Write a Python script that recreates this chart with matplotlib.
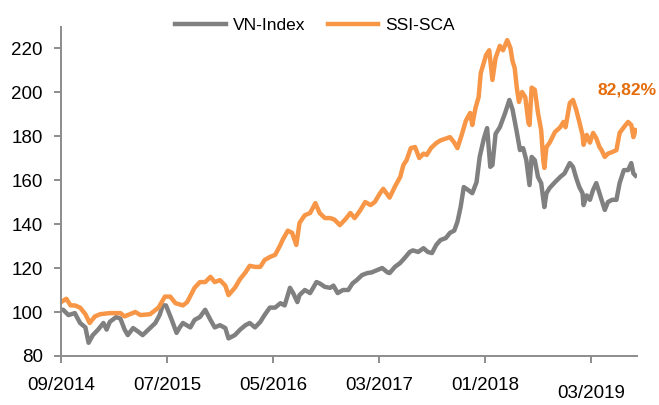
import matplotlib
matplotlib.use("Agg")
import matplotlib.pyplot as plt

plt.rcParams['font.family'] = ['Liberation Sans', 'DejaVu Sans']

# months since 09/2014
t_vni = [0.0, 0.2, 0.7, 1.3, 1.8, 2.3, 2.6, 3.0, 3.5, 4.0, 4.3, 4.6, 5.2, 5.6, 6.0, 6.3, 6.8, 7.3, 7.7, 8.4,
         8.9, 9.3, 9.6, 9.9, 10.4, 10.9, 11.2, 11.5, 12.2, 12.6, 13.1, 13.6, 14.1, 14.5, 15.0, 15.5, 15.8, 16.4,
         16.9, 17.4, 17.8, 18.3, 18.8, 19.2, 19.7, 20.2, 20.7, 21.1, 21.6, 21.9, 22.3, 22.5, 23.0, 23.5, 24.1,
         24.4, 24.9, 25.4, 25.7, 26.1, 26.6, 27.1, 27.5, 27.9, 28.4, 28.9, 29.3, 29.8, 30.3, 30.8, 31.0, 31.5,
         32.0, 32.5, 32.9, 33.2, 33.7, 34.2, 34.6, 35.0, 35.4, 35.8, 36.3, 36.7, 37.1, 37.4, 37.7, 38.0, 38.4,
         38.8, 39.2, 39.5, 39.9, 40.2, 40.5, 40.7, 41.0, 41.4, 41.9, 42.3, 42.6, 43.0, 43.3, 43.6, 43.9, 44.2,
         44.4, 44.7, 45.0, 45.3, 45.6, 45.8, 46.1, 46.6, 47.1, 47.5, 48.0, 48.3, 48.6, 48.9, 49.2, 49.3, 49.6,
         49.9, 50.2, 50.5, 50.8, 51.0, 51.3, 51.6, 52.0, 52.4, 52.7, 53.1, 53.5, 53.8, 54.0, 54.2]
vni = [101, 101, 98.6, 99.5, 95, 93, 86, 89.5, 92, 95, 92, 95.5, 97.7, 97, 92, 89.5, 92.7, 91, 89.5, 92.7,
       95, 98.6, 103, 103, 97, 90.5, 93, 95, 93, 96.4, 97.7, 101, 96.4, 93, 94, 92.7, 88, 89.5,
       92, 94, 95, 93, 95.5, 98.6, 102, 102, 104, 103, 111, 108.6, 104.5, 107.7, 110, 108.6, 113.6,
       113, 111.4, 111, 112, 108.6, 110, 110, 113, 114.5, 116.8, 117.7, 118, 119, 120, 118, 117.7, 120.5,
       122.3, 125, 127.3, 128, 127.3, 129, 127.3, 126.8, 130.5, 132.7, 133.6, 136, 137, 141, 147.7, 156.8, 155.5,
       154, 159, 170.5, 179, 183.6, 166, 166.8, 181, 184, 190.5, 196.4, 192, 181.8, 173.6, 174.5, 169, 157.7,
       170.5, 169, 161.4, 158.6, 147.7, 154, 156.4, 159, 161.4, 163, 167.7, 166, 161, 156.8, 154, 148.6, 153,
       151, 155.5, 158.6, 154, 151, 146.4, 150, 151, 151, 158.6, 164.5, 164.5, 167.7, 163, 162]

t_ssi = [0.0, 0.5, 0.9, 1.3, 1.8, 2.3, 2.7, 3.2, 3.7, 4.6, 5.6, 6.0, 6.5, 7.0, 7.5, 8.4, 9.2, 9.8, 10.3, 10.8,
         11.5, 11.9, 12.6, 13.1, 13.6, 14.1, 14.5, 15.0, 15.5, 15.8, 16.4, 16.9, 17.4, 17.8, 18.3, 18.8, 19.2,
         19.7, 20.2, 20.7, 20.9, 21.4, 21.8, 22.2, 22.5, 23.0, 23.5, 24.0, 24.4, 24.9, 25.4, 25.8, 26.3, 26.8,
         27.3, 27.7, 28.2, 28.7, 29.2, 29.6, 30.1, 30.4, 31.0, 31.5, 32.0, 32.3, 32.6, 33.0, 33.4, 33.8, 34.2,
         34.5, 34.9, 35.4, 35.8, 36.4, 36.7, 37.1, 37.4, 37.8, 38.2, 38.6, 38.8, 39.1, 39.4, 39.6, 40.1, 40.4,
         40.7, 41.0, 41.4, 41.7, 42.1, 42.4, 42.6, 42.8, 43.0, 43.2, 43.5, 43.8, 44.1, 44.2, 44.4, 44.7, 45.0,
         45.3, 45.5, 45.6, 45.8, 46.1, 46.6, 47.1, 47.4, 47.6, 48.0, 48.3, 48.6, 48.9, 49.2, 49.3, 49.6, 49.9,
         50.2, 50.5, 50.8, 51.0, 51.3, 51.6, 52.0, 52.4, 52.7, 53.1, 53.5, 53.8, 54.0, 54.2]
ssi = [104.5, 106, 103, 103, 102, 99, 95, 98, 99, 99.5, 99.5, 98, 99, 100, 98.6, 99, 102, 107, 107, 104,
       103, 104.5, 111, 113.6, 113.6, 116, 113.6, 114.5, 112, 107.7, 111, 115, 118, 121, 120.5, 120.5, 123.6,
       125, 126, 130.5, 132.7, 137, 136, 130.5, 140.5, 144, 145, 149.5, 145, 142.7, 142.7, 142, 139.5, 142,
       145, 142.7, 146, 150, 148.6, 150, 154, 156, 152, 157, 161.4, 166.8, 169, 174.5, 175, 170, 172,
       171.4, 174.5, 176.8, 178, 179, 179.5, 177, 174.5, 180.5, 187, 190.5, 185, 192.7, 197.7, 208.6, 216.8, 219,
       205.5, 215.5, 221, 219, 223.6, 220, 214, 211, 202, 195.5, 200, 197.7, 186, 185, 202, 201, 190.5,
       182.7, 169, 165.5, 175, 177, 181.8, 184, 186.4, 184, 195, 196.4, 192, 186.4, 180.5, 176, 180.5, 177,
       181.4, 179, 175, 173.6, 170.5, 172, 172.7, 173.6, 181.4, 184, 186.4, 185, 179.5, 182.7]

tick_pos = [0, 10, 20, 30, 40, 50]
tick_labels = ['09/2014', '07/2015', '05/2016', '03/2017', '01/2018', '03/2019']
yticks = [80, 100, 120, 140, 160, 180, 200, 220]
last_label = '82,82%'

GRAY = '#808080'
ORANGE = '#F79646'
AXIS = '#8C8C8C'

fig = plt.figure(figsize=(6.59, 4.05), dpi=100)
ax = fig.add_axes([0.0926, 0.121, 0.874, 0.812])

ax.plot(t_vni, vni, color=GRAY, lw=3.2, label='VN-Index', solid_joinstyle='round')
ax.plot(t_ssi, ssi, color=ORANGE, lw=3.2, label='SSI-SCA', solid_joinstyle='round')

ax.set_xlim(0, 54.34)
ax.set_ylim(80, 229.5)
ax.set_yticks(yticks)
ax.set_xticks(tick_pos)
ax.set_xticklabels(tick_labels)

for s in ['top', 'right']:
    ax.spines[s].set_visible(False)
for s in ['left', 'bottom']:
    ax.spines[s].set_color(AXIS)
    ax.spines[s].set_linewidth(1.4)

ax.tick_params(axis='both', colors=AXIS, labelcolor='black', labelsize=13.5, length=5, width=1.4)
ax.tick_params(axis='y', pad=8)
ax.tick_params(axis='x', pad=10)
# last date label sits a bit lower in the original
ax.get_xticklabels()[-1].set_y(-0.025)

# right edge of the note sits at the figure edge
fig.text(0.997, 1 - 90 / 405, last_label, color='#E46C0A', fontsize=12.5, fontweight='bold',
         ha='right', va='center')

fig.legend(loc='center', bbox_to_anchor=(0.478, 0.938), ncol=2, frameon=False,
           fontsize=12.5, handlelength=2.9, handletextpad=0.4, columnspacing=1.3)

fig.savefig('out.png', dpi=100)
